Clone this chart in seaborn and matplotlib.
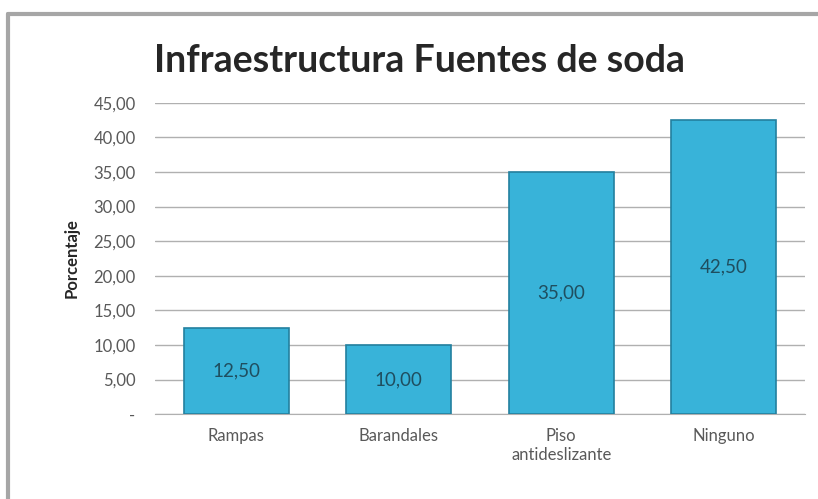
import matplotlib
matplotlib.use('Agg')
import pandas as pd
import seaborn as sns
import matplotlib.pyplot as plt
from matplotlib.lines import Line2D

categorias = ['Rampas', 'Barandales', 'Piso\nantideslizante', 'Ninguno']
porcentajes = [12.50, 10.00, 35.00, 42.50]
yticks = [0, 5, 10, 15, 20, 25, 30, 35, 40, 45]

df = pd.DataFrame({'categoria': categorias, 'porcentaje': porcentajes})

sns.set_style('white')
plt.rcParams['font.family'] = ['Lato', 'DejaVu Sans']

fig = plt.figure(figsize=(8.18, 4.99), dpi=100)
# marco del gráfico (solo borde izquierdo y superior visibles)
x0, y0 = 8 / 818, 1 - 14 / 499
fig.lines.append(Line2D([x0, x0], [0, y0], transform=fig.transFigure,
                        color='#a6a6a6', linewidth=3))
fig.lines.append(Line2D([x0, 1], [y0, y0], transform=fig.transFigure,
                        color='#a6a6a6', linewidth=3))

ax = fig.add_axes([155 / 818, 0.170, 650 / 818, 0.624])

sns.barplot(x='categoria', y='porcentaje', data=df, color='#38b3d9',
            saturation=1, width=0.645, edgecolor='#23809f', linewidth=1.2,
            ax=ax, zorder=3)

for i, v in enumerate(porcentajes):
    ax.text(i, v / 2, f'{v:.2f}'.replace('.', ','), ha='center', va='center',
            fontsize=13.5, color='#1f4e5f', zorder=4)

ax.set_ylim(0, 45)
ax.set_yticks(yticks)
ax.set_yticklabels(['-' if t == 0 else f'{t:.2f}'.replace('.', ',') for t in yticks],
                   fontsize=12, color='#595959')
ax.tick_params(axis='x', labelsize=12, labelcolor='#595959', length=0, pad=10)
ax.tick_params(axis='y', length=0, pad=14)
ax.grid(axis='y', color='#b0b0b0', linewidth=1, zorder=0)
for s in ['top', 'right', 'left']:
    ax.spines[s].set_visible(False)
ax.spines['bottom'].set_color('#b0b0b0')
ax.set_xlabel('')
ax.set_ylabel('Porcentaje', fontsize=12, fontweight='bold', labelpad=10)

fig.text(0.513, 0.878, 'Infraestructura Fuentes de soda', ha='center',
         va='center', fontsize=27, fontweight='bold')

fig.savefig('out.png', dpi=100)
